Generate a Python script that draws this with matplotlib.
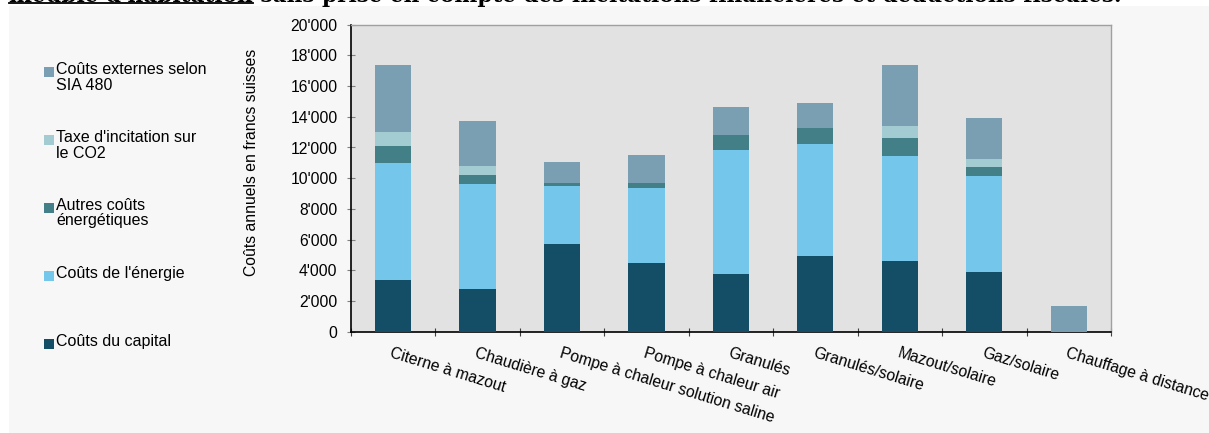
import numpy as np
import matplotlib
matplotlib.use("Agg")
import matplotlib.pyplot as plt
from matplotlib.patches import Rectangle
from matplotlib.lines import Line2D
from matplotlib.ticker import FuncFormatter

categories = ["Citerne à mazout", "Chaudière à gaz", "Pompe à chaleur solution saline",
              "Pompe à chaleur air", "Granulés", "Granulés/solaire", "Mazout/solaire",
              "Gaz/solaire", "Chauffage à distance"]
capital = [3400, 2750, 5700, 4500, 3780, 4950, 4580, 3900, 0]
energie = [7600, 6900, 3800, 4850, 8050, 7250, 6870, 6250, 0]
autres = [1100, 550, 200, 350, 980, 1050, 1170, 550, 0]
taxe = [900, 600, 0, 0, 0, 0, 780, 580, 0]
externes = [4350, 2900, 1350, 1800, 1800, 1630, 3970, 2620, 1700]

series_labels = ["Coûts du capital", "Coûts de l'énergie", "Autres coûts\nénergétiques",
                 "Taxe d'incitation sur\nle CO2", "Coûts externes selon\nSIA 480"]
series_colors = ["#134e66", "#74c6ea", "#437f87", "#a3ccd2", "#7a9fb2"]
series_values = [capital, energie, autres, taxe, externes]

yticks = list(range(0, 20001, 2000))
ylabel = "Coûts annuels en francs suisses"
title_a = "meuble d'habitation"
title_b = " sans prise en compte des incitations financières et déductions fiscales."

FS = 11.3
plt.rcParams['font.family'] = ['Liberation Sans', 'DejaVu Sans']

W, H = 1209, 433
fig = plt.figure(figsize=(W / 100, H / 100), dpi=100)
fig.patch.set_facecolor("white")

# grey panel background
fig.patches.append(Rectangle((9 / W, 0), 1 - 9 / W, 1 - 5.7 / H, transform=fig.transFigure,
                             facecolor="#f7f7f7", edgecolor="none", zorder=-10))

ax_l, ax_r, ax_t, ax_b = 350.7, 1111, 24.7, 331.7
ax = fig.add_axes([ax_l / W, (H - ax_b) / H, (ax_r - ax_l) / W, (ax_b - ax_t) / H])
ax.set_facecolor("#e2e2e2")

n = len(categories)
x = np.arange(n) + 0.5
bottom = np.zeros(n)
for vals, col in zip(series_values, series_colors):
    v = np.array(vals, dtype=float)
    ax.bar(x, v, width=0.43, bottom=bottom, color=col, edgecolor="none", zorder=3)
    bottom += v

ax.set_xlim(0, n)
ax.set_ylim(0, 20000)
ax.set_yticks(yticks)
ax.yaxis.set_major_formatter(FuncFormatter(lambda v, p: f"{int(v):,}".replace(",", "'")))
ax.tick_params(axis='y', direction='inout', length=6, color="#808080", labelsize=FS, pad=6.5)

ax.set_xticks(np.arange(n + 1))
ax.set_xticklabels([])
ax.tick_params(axis='x', which='major', direction='inout', length=6, color="#404040")
ax.set_xticks(x, minor=True)
ax.set_xticklabels(categories, minor=True, rotation=-17, ha='left', rotation_mode='anchor',
                   fontsize=FS)
ax.tick_params(axis='x', which='minor', length=0, pad=10)

for s in ["left", "bottom"]:
    ax.spines[s].set_color("black")
    ax.spines[s].set_linewidth(1.2)
for s in ["top", "right"]:
    ax.spines[s].set_color("#a0a0a0")
    ax.spines[s].set_linewidth(1.0)

ax.set_ylabel(ylabel, fontsize=FS)
ax.yaxis.set_label_coords(-0.12, 0.55)

# legend (manual, reversed order)
leg_y = [72, 140, 207.7, 275.7, 344]
for yy, lab, col in zip(leg_y, series_labels[::-1], series_colors[::-1]):
    fig.patches.append(Rectangle((44 / W, (H - yy - 5) / H), 10 / W, 10 / H,
                                 transform=fig.transFigure, facecolor=col, edgecolor="none"))
    fig.text(56 / W, (H - yy + 10) / H, lab, fontsize=FS + 0.2, va='top', ha='left',
             linespacing=1.05)

# cut-off title at the very top
fig.canvas.draw()
r = fig.canvas.get_renderer()
tfont = dict(family="DejaVu Serif", weight="bold")
ta = fig.text(9 / W, 1 - 1.8 / H, title_a, fontsize=10, va='baseline', ha='left', **tfont)
tb = fig.text(0, 1 - 1.8 / H, title_b, fontsize=10, va='baseline', ha='left', **tfont)
wa = ta.get_window_extent(r).width
wb = tb.get_window_extent(r).width
fs = 10 * (1131 - 9) / (wa + wb)
ta.set_fontsize(fs)
tb.set_fontsize(fs)
wa = ta.get_window_extent(r).width
tb.set_x((9 + wa) / W)
fig.add_artist(Line2D([9 / W, (9 + wa) / W], [1 - 3.4 / H, 1 - 3.4 / H],
                      transform=fig.transFigure, color="black", linewidth=1.3))

fig.savefig("out.png", dpi=100, facecolor=fig.get_facecolor())
